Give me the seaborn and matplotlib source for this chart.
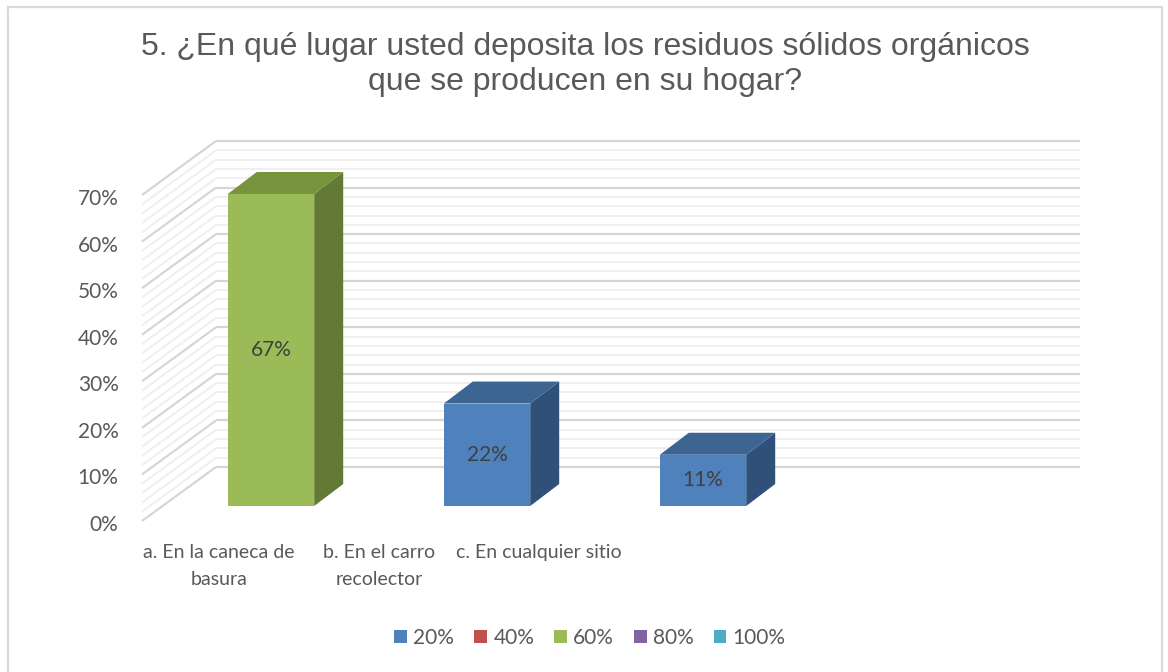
import matplotlib
matplotlib.use("Agg")
import matplotlib.pyplot as plt
import matplotlib.patches as mpatches
from matplotlib.transforms import ScaledTranslation
import seaborn as sns
import pandas as pd

# ---- data ----
categories = ["a. En la caneca de\nbasura", "b. En el carro\nrecolector", "c. En cualquier sitio"]
values = [67, 22, 11]
value_labels = ["67%", "22%", "11%"]
ytick_values = [0, 10, 20, 30, 40, 50, 60, 70]
ytick_labels = ["0%", "10%", "20%", "30%", "40%", "50%", "60%", "70%"]
legend_labels = ["20%", "40%", "60%", "80%", "100%"]
title = "5. ¿En qué lugar usted deposita los residuos sólidos orgánicos\nque se producen en su hogar?"

# ---- style ----
front_colors = ["#9BBB59", "#4F81BD", "#4F81BD"]
top_colors = ["#77933C", "#3D6592", "#3D6592"]
side_colors = ["#637A36", "#2F5079", "#2F5079"]
legend_colors = ["#4F81BD", "#C0504D", "#9BBB59", "#8064A2", "#4BACC6"]
TXT = "#595959"

sns.set_theme(style="white")
plt.rcParams["font.family"] = ["Lato", "DejaVu Sans"]

W, H = 1168, 672
fig = plt.figure(figsize=(W / 100, H / 100), dpi=100)
fig.patch.set_facecolor("white")

# outer frame
fig.add_artist(mpatches.Rectangle((8 / W, -0.1), (1162 - 8) / W, 1.1 - 7 / H,
                                  transform=fig.transFigure, fill=False,
                                  edgecolor="#d9d9d9", lw=1.6))

ax_l, ax_r, ax_t, ax_b = 163, 1027, 180, 506
ax = fig.add_axes([ax_l / W, (H - ax_b) / H, (ax_r - ax_l) / W, (ax_b - ax_t) / H])
ax.set_xlim(-0.5, 3.5)
ax.set_ylim(0, 70)
for s in ax.spines.values():
    s.set_visible(False)
ax.set_facecolor("none")

PX_X = (ax_r - ax_l) / 4.0
PX_Y = (ax_b - ax_t) / 70.0


def off(px, py):
    return px / PX_X, py / PX_Y


bx, by = off(53, 39)     # back wall offset
fx, fy = off(-21, -15)   # front edge of floor / side wall
dx, dy = off(29, 22)     # bar depth

# gridlines on back wall and left side wall
for v in range(0, 71, 2):
    major = v % 10 == 0
    c = "#d6d6d6" if major else "#efefef"
    lw = 1.6 if major else 1.4
    ax.plot([-0.5 + bx, 3.5 + bx], [v + by, v + by], color=c, lw=lw,
            clip_on=False, zorder=0, solid_capstyle="butt")
    ax.plot([-0.5 + fx, -0.5 + bx], [v + fy, v + by], color=c, lw=lw,
            clip_on=False, zorder=0, solid_capstyle="butt")

df = pd.DataFrame({"cat": categories, "val": values})
sns.barplot(data=df, x="cat", y="val", hue="cat", palette=front_colors,
            width=0.4, legend=False, ax=ax, saturation=1, zorder=3,
            edgecolor="none")
ax.set_xlim(-0.5, 3.5)
ax.set_ylim(0, 70)

bars = sorted([p for p in ax.patches if p.get_height() > 0], key=lambda p: p.get_x())
for i, p in enumerate(bars):
    x0 = p.get_x()
    x1 = x0 + p.get_width()
    h = p.get_height()
    side = mpatches.Polygon([(x1, 0), (x1 + dx, dy), (x1 + dx, h + dy), (x1, h)],
                            closed=True, facecolor=side_colors[i], edgecolor="none",
                            clip_on=False, zorder=3)
    top = mpatches.Polygon([(x0, h), (x0 + dx, h + dy), (x1 + dx, h + dy), (x1, h)],
                           closed=True, facecolor=top_colors[i], edgecolor="none",
                           clip_on=False, zorder=3)
    ax.add_patch(side)
    ax.add_patch(top)
    ax.text((x0 + x1) / 2, h / 2, value_labels[i], ha="center", va="center",
            color="#404040", fontsize=15, zorder=4)

# y tick labels on front plane
ax.set_yticks(ytick_values)
ax.set_yticklabels(ytick_labels)
ax.tick_params(axis="y", length=0, pad=32, labelsize=15, labelcolor=TXT)
shift = ScaledTranslation(0, -17 / 100, fig.dpi_scale_trans)
for lab in ax.get_yticklabels():
    lab.set_transform(lab.get_transform() + shift)
ax.set_xticks([])
ax.set_xlabel("")
ax.set_ylabel("")

# category label axis
lab_l, lab_r, lab_y = 139, 779, 536
ax_lab = fig.add_axes([lab_l / W, (H - lab_y) / H, (lab_r - lab_l) / W, 0.0001])
ax_lab.set_xlim(-0.5, 3.5)
ax_lab.set_xticks(range(len(categories)))
ax_lab.set_xticklabels(categories, linespacing=1.7)
ax_lab.tick_params(axis="x", length=0, pad=6, labelsize=14, labelcolor=TXT)
ax_lab.set_yticks([])
for s in ax_lab.spines.values():
    s.set_visible(False)
ax_lab.set_facecolor("none")

# title
fig.text(585 / W, 1 - 32 / H, title, ha="center", va="top", color=TXT,
         fontsize=23, family=["Liberation Sans", "DejaVu Sans"], linespacing=1.22)

# legend
handles = [mpatches.Patch(facecolor=c, edgecolor="none") for c in legend_colors]
fig.legend(handles, legend_labels, loc="center", bbox_to_anchor=(590 / W, 1 - 638 / H),
           ncol=5, frameon=False, handlelength=0.62, handleheight=0.62,
           handletextpad=0.3, columnspacing=0.95, fontsize=15, labelcolor=TXT)

fig.savefig("out.png", dpi=100, facecolor="white")
